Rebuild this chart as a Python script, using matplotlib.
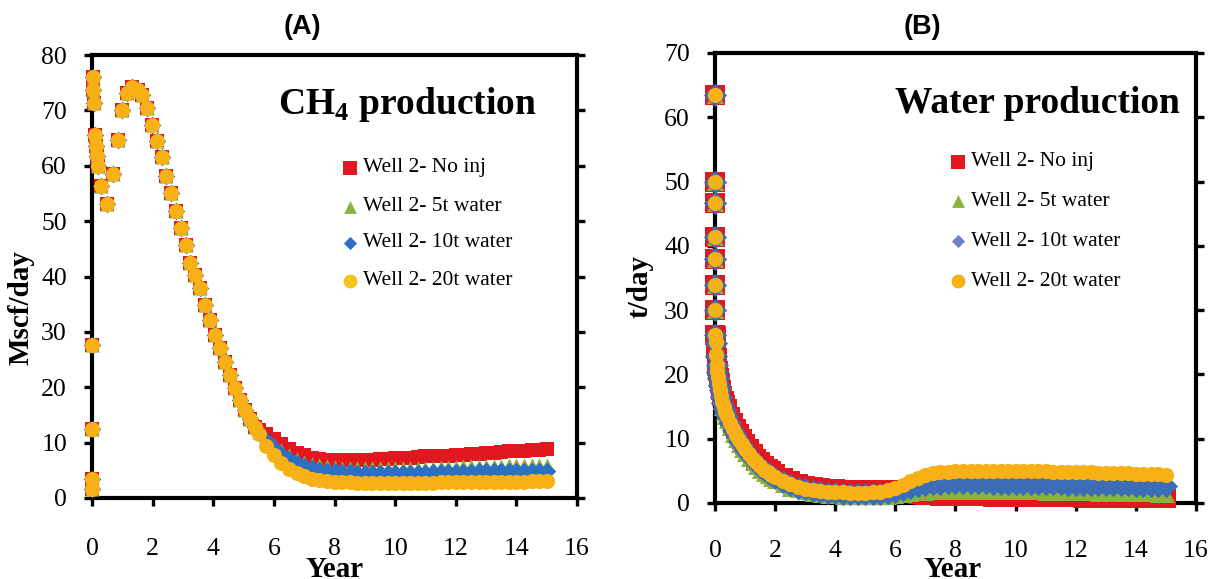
import matplotlib
matplotlib.use("Agg")
import matplotlib.pyplot as plt

plt.rcParams["font.family"] = ["Liberation Serif", "DejaVu Serif"]
plt.rcParams["mathtext.fontset"] = "custom"
plt.rcParams["mathtext.rm"] = "Liberation Serif"
plt.rcParams["mathtext.bf"] = "Liberation Serif:bold"

# ---------------- CH4 production (Mscf/day) ----------------
# Early period: all four cases coincide
ch4_years_shared = [0.000, 0.004, 0.008, 0.012, 0.030, 0.035, 0.070, 0.110, 0.125, 0.165,
                    0.205, 0.290, 0.500, 0.690, 0.870, 1.000, 1.170, 1.330, 1.530, 1.660,
                    1.830, 1.990, 2.160, 2.300, 2.450, 2.620, 2.760, 2.930, 3.090, 3.240,
                    3.400, 3.570, 3.740, 3.900, 4.070, 4.230, 4.400, 4.560, 4.730, 4.890,
                    5.060, 5.220, 5.380]
ch4_shared = [1.6, 3.4, 12.4, 27.6, 76.1, 73.7, 71.3, 65.6, 63.5, 61.7,
              59.9, 56.4, 53.1, 58.6, 64.6, 70.1, 73.1, 74.3, 73.7, 72.8,
              70.4, 67.4, 64.4, 61.5, 58.2, 55.0, 51.9, 48.8, 45.6, 42.4,
              40.3, 37.9, 34.8, 32.1, 29.4, 27.0, 24.6, 22.2, 19.8, 17.7,
              15.9, 14.3, 12.9]

# Later period: the injection cases separate
ch4_years_late = [5.50, 5.75, 6.00, 6.25, 6.50, 6.75, 7.00, 7.25, 7.50, 7.75,
                  8.00, 8.25, 8.50, 8.75, 9.00, 9.25, 9.50, 9.75, 10.00, 10.25,
                  10.50, 10.75, 11.00, 11.25, 11.50, 11.75, 12.00, 12.25, 12.50, 12.75,
                  13.00, 13.25, 13.50, 13.75, 14.00, 14.25, 14.50, 14.75, 15.00]
ch4_no_inj = [12.3, 11.5, 10.6, 9.7, 8.9, 8.2, 7.7, 7.3, 7.0, 6.9,
              6.8, 6.8, 6.8, 6.8, 6.9, 6.9, 7.0, 7.1, 7.2, 7.3,
              7.3, 7.4, 7.5, 7.5, 7.6, 7.6, 7.7, 7.8, 7.9, 8.0,
              8.1, 8.2, 8.3, 8.4, 8.5, 8.5, 8.6, 8.7, 8.8]
ch4_5t = [12.0, 10.8, 9.6, 8.6, 7.7, 7.0, 6.5, 6.1, 5.9, 5.7,
          5.6, 5.5, 5.5, 5.4, 5.4, 5.4, 5.4, 5.4, 5.4, 5.4,
          5.5, 5.5, 5.5, 5.5, 5.6, 5.6, 5.6, 5.7, 5.7, 5.7,
          5.8, 5.8, 5.8, 5.9, 5.9, 5.9, 6.0, 6.0, 6.0]
ch4_10t = [11.8, 10.4, 9.1, 8.0, 7.0, 6.3, 5.8, 5.4, 5.1, 4.9,
           4.8, 4.7, 4.7, 4.6, 4.6, 4.6, 4.6, 4.6, 4.6, 4.6,
           4.6, 4.6, 4.6, 4.7, 4.7, 4.7, 4.7, 4.7, 4.7, 4.8,
           4.8, 4.8, 4.8, 4.8, 4.9, 4.9, 4.9, 4.9, 4.9]
ch4_20t = [11.5, 9.4, 7.8, 6.4, 5.3, 4.5, 3.9, 3.5, 3.2, 3.0,
           2.9, 2.8, 2.8, 2.7, 2.7, 2.7, 2.7, 2.7, 2.7, 2.7,
           2.7, 2.7, 2.7, 2.7, 2.8, 2.8, 2.8, 2.8, 2.8, 2.8,
           2.8, 2.9, 2.9, 2.9, 2.9, 2.9, 3.0, 3.0, 3.0]

# ---------------- Water production (t/day) ----------------
water_years_start = [0.000, 0.002, 0.004, 0.006, 0.008, 0.010, 0.012, 0.015]
water_start = [63.4, 50.0, 46.6, 41.4, 38.0, 33.9, 30.0, 26.1]

water_years = [0.02, 0.04, 0.06, 0.08, 0.10, 0.13, 0.16, 0.20, 0.25, 0.30,
               0.35, 0.40, 0.50, 0.60, 0.70, 0.80, 0.90, 1.00, 1.125, 1.25,
               1.375, 1.50, 1.625, 1.75, 1.875, 2.00,
               2.25, 2.50, 2.75, 3.00,
               3.25, 3.50, 3.75, 4.00, 4.25, 4.50, 4.75, 5.00, 5.25, 5.50,
               5.75, 6.00, 6.25, 6.50, 6.75, 7.00, 7.25, 7.50, 7.75, 8.00,
               8.25, 8.50, 8.75, 9.00, 9.25, 9.50, 9.75, 10.00, 10.25, 10.50,
               10.75, 11.00, 11.25, 11.50, 11.75, 12.00, 12.25, 12.50, 12.75, 13.00,
               13.25, 13.50, 13.75, 14.00, 14.25, 14.50, 14.75, 15.00]
water_no_inj = [26.0, 24.0, 22.5, 21.5, 20.6, 19.5, 18.6, 17.6, 16.7, 15.9,
                15.2, 14.6, 13.4, 12.4, 11.5, 10.7, 9.9, 9.2, 8.4, 7.6,
                6.9, 6.3, 5.8, 5.3, 4.9, 4.5,
                3.9, 3.4, 3.0, 2.7,
                2.5, 2.3, 2.2, 2.1, 2.0, 2.0, 2.0, 2.0, 2.0, 2.0,
                2.0, 1.9, 1.75, 1.6, 1.45, 1.3, 1.2, 1.15, 1.1, 1.1,
                1.1, 1.05, 1.05, 1.05, 1.0, 1.0, 1.0, 1.0, 0.95, 0.95,
                0.95, 0.95, 0.9, 0.9, 0.9, 0.9, 0.85, 0.85, 0.85, 0.85,
                0.85, 0.8, 0.8, 0.8, 0.8, 0.8, 0.75, 0.75]
water_5t = [24.5, 22.5, 20.9, 19.8, 18.9, 17.8, 16.9, 15.9, 15.0, 14.2,
            13.5, 12.9, 11.8, 10.8, 9.9, 9.1, 8.4, 7.8, 7.0, 6.4,
            5.8, 5.2, 4.7, 4.3, 3.9, 3.5,
            2.9, 2.4, 2.1, 1.8,
            1.6, 1.4, 1.3, 1.2, 1.15, 1.1, 1.1, 1.1, 1.1, 1.1,
            1.15, 1.2, 1.35, 1.5, 1.65, 1.75, 1.85, 1.9, 1.9, 1.9,
            1.9, 1.9, 1.9, 1.9, 1.9, 1.85, 1.85, 1.85, 1.8, 1.8,
            1.8, 1.75, 1.75, 1.7, 1.7, 1.7, 1.65, 1.65, 1.6, 1.6,
            1.6, 1.55, 1.55, 1.5, 1.5, 1.5, 1.45, 1.45]
water_10t = [24.9, 22.9, 21.4, 20.4, 19.5, 18.4, 17.5, 16.5, 15.6, 14.8,
             14.1, 13.5, 12.4, 11.4, 10.5, 9.7, 9.0, 8.3, 7.5, 6.8,
             6.2, 5.6, 5.1, 4.7, 4.3, 3.9,
             3.3, 2.8, 2.4, 2.1,
             1.9, 1.7, 1.6, 1.5, 1.45, 1.4, 1.4, 1.4, 1.4, 1.45,
             1.55, 1.7, 2.0, 2.3, 2.6, 2.8, 2.95, 3.0, 3.05, 3.05,
             3.05, 3.05, 3.05, 3.05, 3.0, 3.0, 3.0, 3.0, 2.95, 2.95,
             2.95, 2.9, 2.9, 2.9, 2.85, 2.85, 2.85, 2.8, 2.8, 2.8,
             2.75, 2.75, 2.75, 2.7, 2.7, 2.7, 2.65, 2.65]
water_20t = [25.0, 23.0, 21.5, 20.5, 19.6, 18.5, 17.6, 16.6, 15.7, 14.9,
             14.2, 13.6, 12.5, 11.5, 10.6, 9.8, 9.1, 8.4, 7.6, 6.9,
             6.3, 5.7, 5.2, 4.8, 4.4, 4.0,
             3.4, 2.9, 2.5, 2.2,
             2.0, 1.85, 1.75, 1.7, 1.65, 1.6, 1.6, 1.6, 1.65, 1.75,
             1.95, 2.3, 2.8, 3.4, 3.9, 4.3, 4.6, 4.8, 4.85, 4.9,
             4.9, 4.9, 4.9, 4.9, 4.9, 4.9, 4.9, 4.9, 4.9, 4.9,
             4.9, 4.9, 4.85, 4.85, 4.8, 4.8, 4.75, 4.75, 4.7, 4.7,
             4.65, 4.6, 4.6, 4.55, 4.5, 4.5, 4.45, 4.4]

labels = ["Well 2- No inj", "Well 2- 5t water", "Well 2- 10t water", "Well 2- 20t water"]
markers = ["s", "^", "D", "o"]

RED = "#E3171F"
GREEN = "#8DB23C"
GOLD = "#F7B015"

fig = plt.figure(figsize=(12.12, 5.79), dpi=100)
ax_a = fig.add_axes([0.0759, 0.1399, 0.4002, 0.7651])
ax_b = fig.add_axes([0.5899, 0.1313, 0.3969, 0.7772])


def style_axes(ax, ymax, ystep, label_pad_x, label_pad_y):
    ax.set_xlim(0, 16)
    ax.set_ylim(0, ymax)
    ax.set_xticks(range(0, 17, 2))
    ax.set_yticks(range(0, ymax + 1, ystep))
    for side in ["left", "right", "top", "bottom"]:
        ax.spines[side].set_linewidth(3.0)
        ax.spines[side].set_color("black")
    ax.tick_params(direction="out", length=6, width=2.4, right=True, top=False,
                   labelsize=18.5, colors="black")
    ax.tick_params(axis="x", pad=label_pad_x)
    ax.tick_params(axis="y", pad=label_pad_y)


def draw_series(ax, series, sizes, colors):
    for (xs, ys), m, s, c in zip(series, markers, sizes, colors):
        ax.scatter(xs, ys, marker=m, s=s, color=c, linewidths=0,
                   clip_on=False, zorder=3)


def draw_key(ax, x_mark, x_text, rows, key_sizes, colors, fontsize):
    for y, m, s, c, lab in zip(rows, markers, key_sizes, colors, labels):
        ax.scatter([x_mark], [y], marker=m, s=s, color=c, linewidths=0,
                   transform=ax.transAxes, clip_on=False, zorder=4)
        ax.text(x_text, y, lab, transform=ax.transAxes, ha="left", va="center",
                fontsize=fontsize)


# ---- Panel A ----
style_axes(ax_a, 80, 10, 23, 12)
colors_a = [RED, GREEN, "#2B70C2", GOLD]
series_a = [(ch4_years_shared + ch4_years_late, ch4_shared + v)
            for v in (ch4_no_inj, ch4_5t, ch4_10t, ch4_20t)]
draw_series(ax_a, series_a, [110, 105, 80, 118], colors_a)
ax_a.text(0.3835, 0.889, r"CH$_{\mathbf{4}}$ production", transform=ax_a.transAxes,
          ha="left", va="center", fontsize=27, fontweight="bold")
draw_key(ax_a, 0.532, 0.558, [0.745, 0.657, 0.576, 0.490],
         [95, 85, 45, 100], [RED, "#8DB23C", "#2E6FBF", "#F6C21C"], 15.5)
ax_a.set_ylabel("Mscf/day", fontsize=21, fontweight="bold")
ax_a.yaxis.set_label_coords(-0.118, 0.43)

# ---- Panel B ----
style_axes(ax_b, 70, 10, 21, 12)
colors_b = [RED, GREEN, "#3C6DB7", GOLD]
series_b = [(water_years_start + water_years, water_start + v)
            for v in (water_no_inj, water_5t, water_10t, water_20t)]
draw_series(ax_b, series_b, [200, 150, 140, 120], colors_b)
ax_b.text(0.374, 0.887, "Water production", transform=ax_b.transAxes,
          ha="left", va="center", fontsize=27, fontweight="bold")
draw_key(ax_b, 0.505, 0.532, [0.758, 0.671, 0.582, 0.493],
         [95, 85, 45, 100], [RED, "#8DB23C", "#6F7FCB", GOLD], 15.5)
ax_b.set_ylabel("t/day", fontsize=21, fontweight="bold")
ax_b.yaxis.set_label_coords(-0.128, 0.48)

# x-axis titles sit low and run off the bottom edge
for xc in (335 / 1212, 953 / 1212):
    fig.text(xc, 0.040, "Year", ha="center", va="top", fontsize=21, fontweight="bold")

fig.text(302 / 1212, 1 - 27 / 579, "(A)", ha="center", va="center", fontsize=19.5,
         fontweight="bold", family=["Liberation Sans", "DejaVu Sans"])
fig.text(922 / 1212, 1 - 27 / 579, "(B)", ha="center", va="center", fontsize=19.5,
         fontweight="bold", family=["Liberation Sans", "DejaVu Sans"])

fig.savefig("out.png", dpi=100, facecolor="white")
